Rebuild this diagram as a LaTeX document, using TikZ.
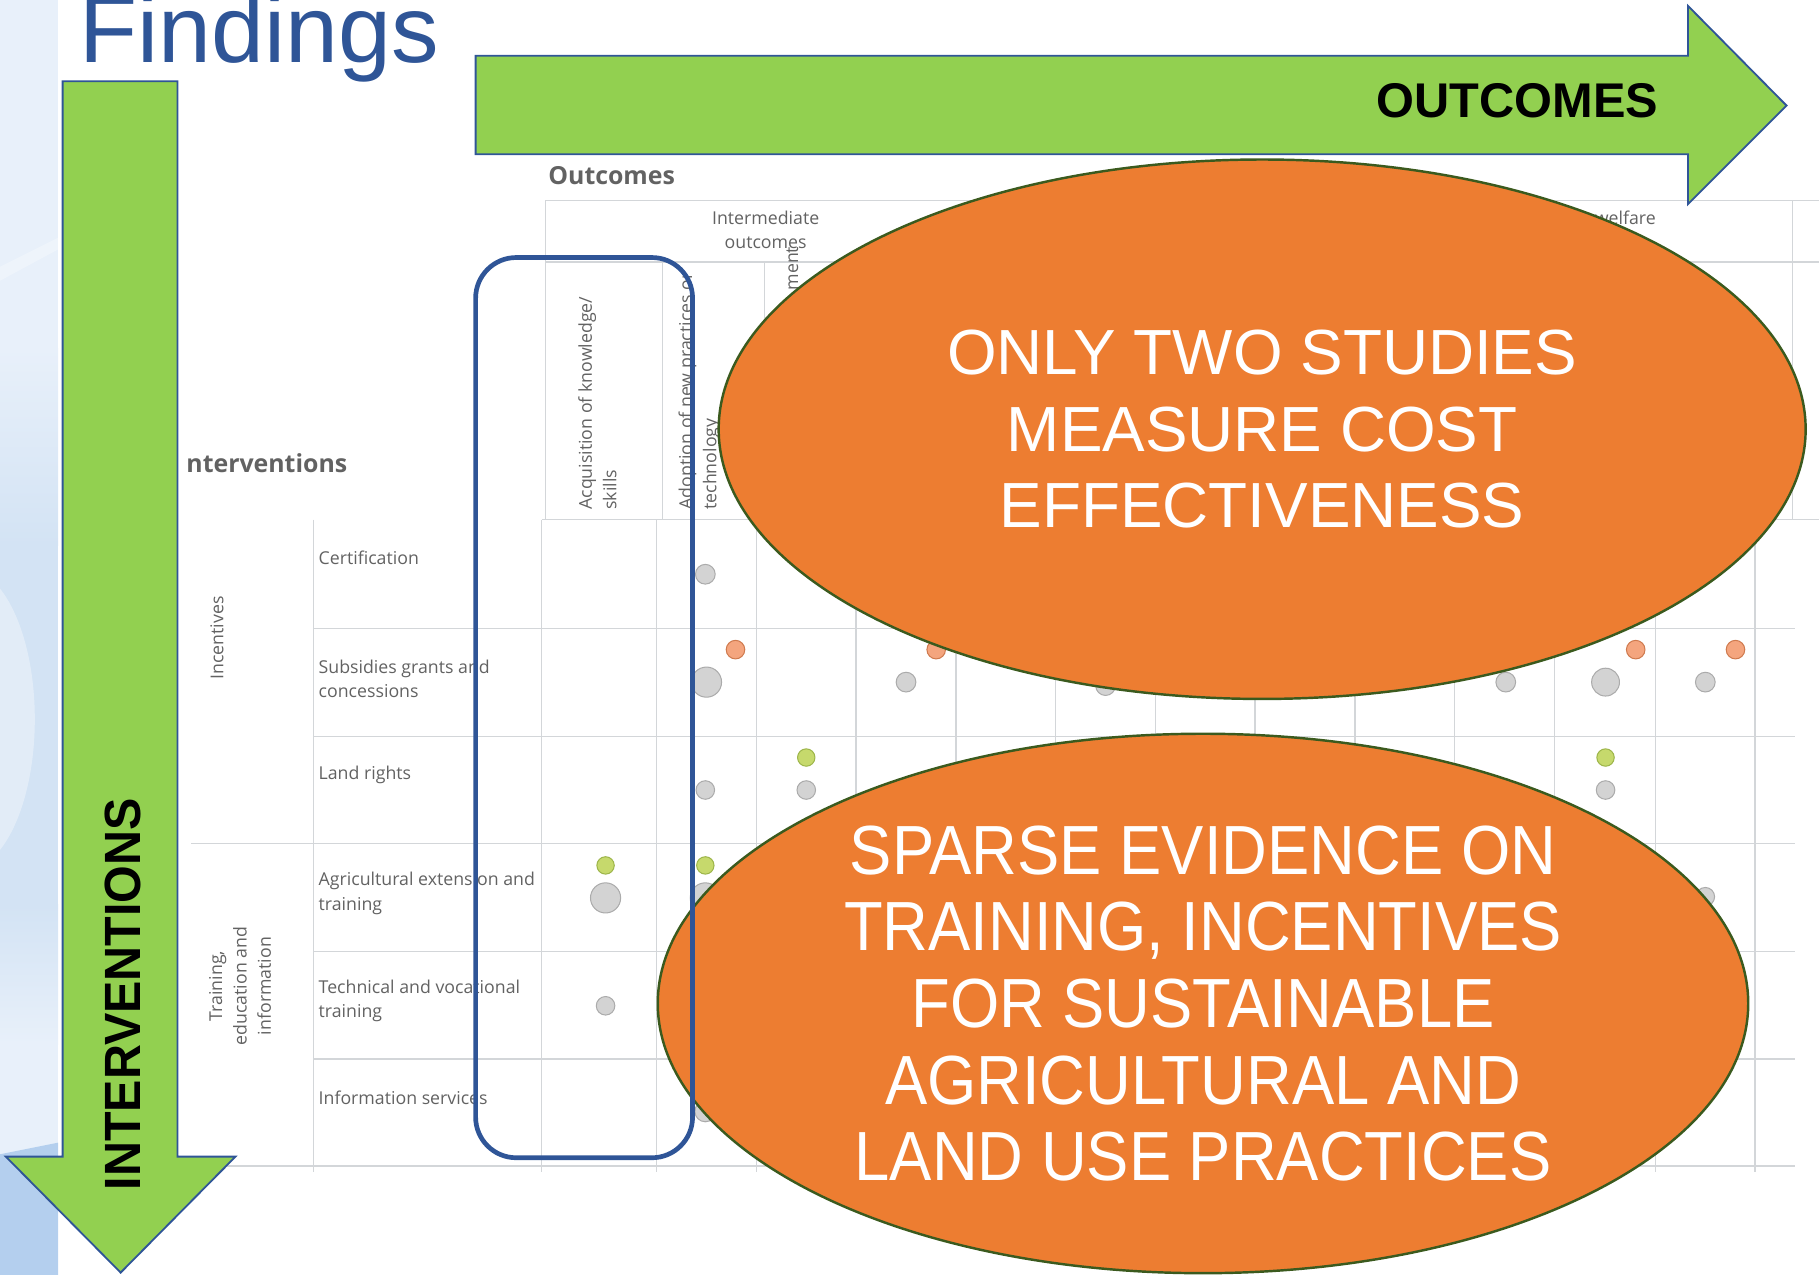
\documentclass[tikz,border=0pt]{standalone}
\usepackage{fontspec}
\setmainfont{Liberation Sans}
\newfontfamily\intfont[FakeStretch=0.95]{Liberation Sans}
\newfontfamily\sparsefont[FakeStretch=0.91]{Liberation Sans}
\newfontfamily\mapfont{Open Sans}
\usetikzlibrary{shapes.geometric}
\definecolor{findblue}{HTML}{2F5597}
\definecolor{arrowgreen}{HTML}{92D050}
\definecolor{bubbleorange}{HTML}{ED7D31}
\definecolor{bubbleedge}{HTML}{3B5A1E}
\definecolor{gridgray}{HTML}{D3D6D9}
\definecolor{mapgray}{HTML}{626262}
\definecolor{stripbase}{HTML}{E8F0FA}
\definecolor{stripmid}{HTML}{D3E3F4}
\definecolor{stripdark}{HTML}{B4CFEE}
\definecolor{dotgrayfill}{HTML}{D3D3D3}
\definecolor{dotgrayedge}{HTML}{ABABAB}
\definecolor{dotorangefill}{HTML}{F4A57E}
\definecolor{dotorangeedge}{HTML}{CF7A4E}
\definecolor{dotgreenfill}{HTML}{C6D96C}
\definecolor{dotgreenedge}{HTML}{9DB54A}
\tikzset{
  bigarrow/.style={fill=arrowgreen, draw=findblue, line width=0.45pt, line join=miter},
  bubble/.style={ellipse, fill=bubbleorange, draw=bubbleedge, line width=0.6pt, inner sep=0pt},
  bubbletext/.style={text=white, align=center, inner sep=0pt},
  gridline/.style={draw=gridgray, line width=0.35pt},
  maplabel/.style={text=mapgray, align=left, inner sep=0pt,
    font=\mapfont\fontsize{4.35pt}{5.97pt}\selectfont},
  maphead/.style={text=mapgray, inner sep=0pt,
    font=\mapfont\bfseries\fontsize{6.1pt}{7pt}\selectfont},
  dotgray/.style={fill=dotgrayfill, draw=dotgrayedge, line width=0.25pt},
  dotorange/.style={fill=dotorangefill, draw=dotorangeedge, line width=0.25pt},
  dotgreen/.style={fill=dotgreenfill, draw=dotgreenedge, line width=0.25pt},
  focusbox/.style={draw=findblue, line width=1.15pt, rounded corners=3.5mm}
}
\begin{document}
\begin{tikzpicture}[x=0.1mm, y=-0.1mm]
  \useasboundingbox (0,0) rectangle (1568,1099);
  \begin{scope}
    \clip (0,0) rectangle (50,1099);
    \fill[stripbase] (0,0) rectangle (50,1099);
    \shade[top color=stripbase, bottom color=stripmid] (0,300) rectangle (50,470);
    \fill[stripmid] (0,470) rectangle (50,780);
    \shade[top color=stripmid, bottom color=stripbase] (0,780) rectangle (50,900);
    \fill[white, opacity=0.35] (-30,620) ellipse [x radius=6mm, y radius=13mm];
    \fill[white, opacity=0.3] (0,230) -- (50,205) -- (50,215) -- (0,242) -- cycle;
    \fill[stripdark] (0,995) -- (50,985) -- (50,1099) -- (0,1099) -- cycle;
  \end{scope}

  \node[anchor=base west, inner sep=0pt, text=findblue,
    font=\fontsize{23.3pt}{26pt}\selectfont] (title) at (68,54) {Findings};

  \draw[gridline] (470,173) -- (1568,173);
  \draw[gridline] (470,226) -- (1568,226);
  \draw[gridline] (467,448) -- (1568,448);
  \draw[gridline] (470,173) -- (470,448);
  \draw[gridline] (571,226) -- (571,448);
  \draw[gridline] (659,226) -- (659,448);
  \draw[gridline] (747,226) -- (747,448);
  \draw[gridline] (835,226) -- (835,448);
  \draw[gridline] (923,226) -- (923,448);
  \draw[gridline] (1011,226) -- (1011,448);
  \draw[gridline] (1099,226) -- (1099,448);
  \draw[gridline] (1187,226) -- (1187,448);
  \draw[gridline] (1275,226) -- (1275,448);
  \draw[gridline] (1363,226) -- (1363,448);
  \draw[gridline] (1451,226) -- (1451,448);
  \draw[gridline] (1545,173) -- (1545,448);

  \draw[gridline] (270,542) -- (1547,542);
  \draw[gridline] (270,635) -- (1547,635);
  \draw[gridline] (165,727) -- (1547,727);
  \draw[gridline] (270,820) -- (1547,820);
  \draw[gridline] (270,913) -- (1547,913);
  \draw[gridline] (160,1005) -- (1547,1005);
  \draw[gridline] (270,448) -- (270,1010);
  \draw[gridline] (467,448) -- (467,1010);
  \draw[gridline] (566,448) -- (566,1010);
  \draw[gridline] (652,448) -- (652,1010);
  \draw[gridline] (738,448) -- (738,1010);
  \draw[gridline] (824,448) -- (824,1010);
  \draw[gridline] (910,448) -- (910,1010);
  \draw[gridline] (996,448) -- (996,1010);
  \draw[gridline] (1082,448) -- (1082,1010);
  \draw[gridline] (1168,448) -- (1168,1010);
  \draw[gridline] (1254,448) -- (1254,1010);
  \draw[gridline] (1340,448) -- (1340,1010);
  \draw[gridline] (1427,448) -- (1427,1010);
  \draw[gridline] (1513,448) -- (1513,1010);

  \node[maphead, anchor=west] (outhead) at (472,151) {Outcomes};
  \node[maphead, anchor=west] (inthead) at (160,399) {nterventions};
  \node[maplabel, align=center] (intermediate) at (660,198) {Intermediate\\outcomes};
  \node[maplabel] (welfare) at (1401,188) {welfare};
  \node[maplabel, rotate=90, anchor=west] (acquisition) at (515,440) {Acquisition of knowledge/\\skills};
  \node[maplabel, rotate=90, anchor=west] (adoption) at (603,440) {Adoption of new practices or\\technology};
  \node[maplabel, rotate=90, anchor=east] (improvement) at (683,212) {ment};
  \node[maplabel, rotate=90, align=center] (incentives) at (187,550) {Incentives};
  \node[maplabel, rotate=90, align=center] (training) at (207,850) {Training,\\education and\\information};
  \node[maplabel, anchor=west] (certification) at (274,481) {Certification};
  \node[maplabel, anchor=west] (subsidies) at (274,585) {Subsidies grants and\\concessions};
  \node[maplabel, anchor=west] (landrights) at (274,668) {Land rights};
  \node[maplabel, anchor=west] (extension) at (274,770) {Agricultural extension and\\training};
  \node[maplabel, anchor=west] (vocational) at (274,863) {Technical and vocational\\training};
  \node[maplabel, anchor=west] (information) at (274,946) {Information services};

  \draw[dotgray] (608,495) circle [radius=8.5];
  \draw[dotgray] (609,588) circle [radius=13];
  \draw[dotgray] (781,588) circle [radius=8.5];
  \draw[dotgray] (953,591) circle [radius=8.5];
  \draw[dotgray] (1298,588) circle [radius=8.5];
  \draw[dotgray] (1384,588) circle [radius=12];
  \draw[dotgray] (1470,588) circle [radius=8.5];
  \draw[dotgray] (608,681) circle [radius=8];
  \draw[dotgray] (695,681) circle [radius=8];
  \draw[dotgray] (1384,681) circle [radius=8];
  \draw[dotgray] (522,774) circle [radius=13];
  \draw[dotgray] (608,774) circle [radius=13];
  \draw[dotgray] (1470,773) circle [radius=8];
  \draw[dotgray] (522,867) circle [radius=8];
  \draw[dotgray] (608,958) circle [radius=9];
  \draw[dotorange] (634,560) circle [radius=8];
  \draw[dotorange] (807,560) circle [radius=8];
  \draw[dotorange] (1410,560) circle [radius=8];
  \draw[dotorange] (1496,560) circle [radius=8];
  \draw[dotgreen] (695,653) circle [radius=7.5];
  \draw[dotgreen] (1384,653) circle [radius=7.5];
  \draw[dotgreen] (522,746) circle [radius=7.5];
  \draw[dotgreen] (608,746) circle [radius=7.5];

  \draw[bigarrow] (54,70) -- (153,70) -- (153,997) -- (203,997) -- (104,1097)
    -- (5,997) -- (54,997) -- cycle;
  \draw[bigarrow] (410,48) -- (1455,48) -- (1455,5) -- (1540,91) -- (1455,176)
    -- (1455,133) -- (410,133) -- cycle;
  \node[inner sep=0pt, font=\bfseries\fontsize{11.95pt}{13pt}\selectfont] (outcomes) at (1308,87) {OUTCOMES};
  \node[inner sep=0pt, rotate=90, font=\intfont\bfseries\fontsize{12.5pt}{13pt}\selectfont] (interventions) at (106,857) {INTERVENTIONS};

  \node[bubble, minimum width=93.7mm, minimum height=46.5mm] (cost) at (1088,370) {};
  \node[bubbletext, font=\fontsize{15.65pt}{18.78pt}\selectfont] (costtext) at (cost)
    {ONLY TWO STUDIES\\MEASURE COST\\EFFECTIVENESS};
  \node[bubble, minimum width=94mm, minimum height=46.5mm] (sparse) at (1037,865) {};
  \node[bubbletext, font=\sparsefont\fontsize{17.07pt}{18.78pt}\selectfont] (sparsetext) at (sparse)
    {SPARSE EVIDENCE ON\\TRAINING, INCENTIVES\\FOR SUSTAINABLE\\AGRICULTURAL AND\\LAND USE PRACTICES};

  \draw[focusbox] (410,222) rectangle (597,998);
\end{tikzpicture}
\end{document}
